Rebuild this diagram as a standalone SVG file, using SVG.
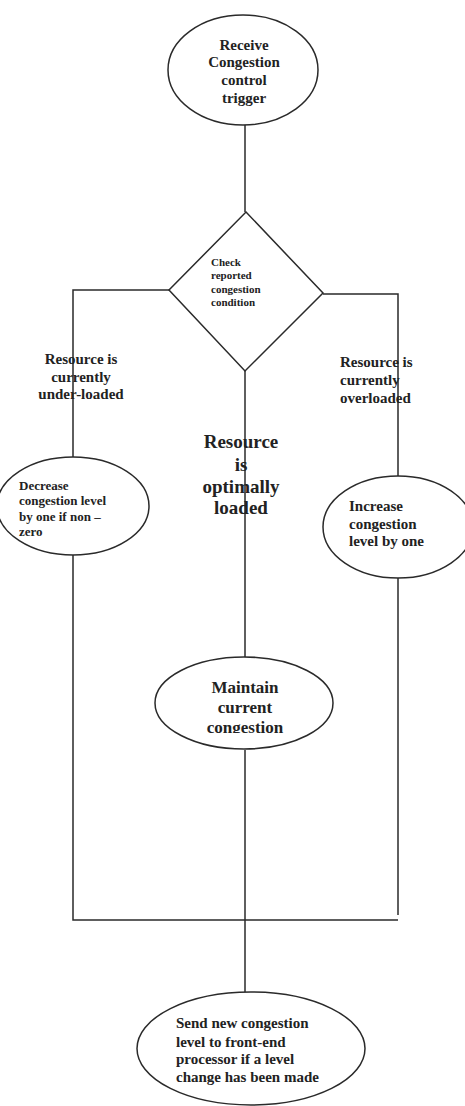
<svg xmlns="http://www.w3.org/2000/svg" width="465" height="1106" viewBox="0 0 465 1106">
<style>
.s{fill:#fff;stroke:#2a2a2a;stroke-width:1.5}
.c{fill:none;stroke:#2a2a2a;stroke-width:1.5}
.t{font-family:'Liberation Serif','Times New Roman','DejaVu Serif',serif;font-weight:700;fill:#222}
.m{text-anchor:middle}
</style>
<defs>
<clipPath id="clipM"><rect x="150" y="650" width="190" height="83"/></clipPath>
</defs>
<g id="connectors">
<path class="c" d="M245 125 V212"/>
<path class="c" d="M169 290 H73 V457"/>
<path class="c" d="M323 294 H398 V476"/>
<path class="c" d="M245 371 V657"/>
<path class="c" d="M73 555 V920 H398"/>
<path class="c" d="M398 578 V915"/>
<path class="c" d="M245 750 V992"/>
</g>
<g id="start">
<ellipse class="s" cx="243" cy="70" rx="75" ry="55"/>
<text class="t m" font-size="15" x="244" y="50">Receive</text>
<text class="t m" font-size="15" x="244" y="67">Congestion</text>
<text class="t m" font-size="15" x="244" y="85">control</text>
<text class="t m" font-size="15" x="244" y="103">trigger</text>
</g>
<g id="decision">
<polygon class="s" points="246,212 323,293 245,371 169,290"/>
<text class="t" font-size="11" x="211" y="266">Check</text>
<text class="t" font-size="11" x="211" y="279">reported</text>
<text class="t" font-size="11" x="211" y="293">congestion</text>
<text class="t" font-size="11" x="211" y="306">condition</text>
</g>
<g id="label-under">
<text class="t m" font-size="15" x="81" y="364">Resource is</text>
<text class="t m" font-size="15" x="81" y="382">currently</text>
<text class="t m" font-size="15" x="81" y="399">under-loaded</text>
</g>
<g id="label-over">
<text class="t" font-size="15" x="340" y="367">Resource is</text>
<text class="t" font-size="15" x="340" y="385">currently</text>
<text class="t" font-size="15" x="340" y="403">overloaded</text>
</g>
<g id="label-optimal">
<text class="t m" font-size="19" x="241" y="448">Resource</text>
<text class="t m" font-size="19" x="241" y="471">is</text>
<text class="t m" font-size="19" x="241" y="493">optimally</text>
<text class="t m" font-size="19" x="241" y="514">loaded</text>
</g>
<g id="decrease">
<ellipse class="s" cx="73" cy="506" rx="76" ry="49"/>
<text class="t" font-size="13" x="19" y="490">Decrease</text>
<text class="t" font-size="13" x="19" y="505">congestion level</text>
<text class="t" font-size="13" x="19" y="521">by one if non –</text>
<text class="t" font-size="13" x="19" y="536">zero</text>
</g>
<g id="increase">
<ellipse class="s" cx="398" cy="527" rx="75" ry="51"/>
<text class="t" font-size="15" x="349" y="511">Increase</text>
<text class="t" font-size="15" x="349" y="529">congestion</text>
<text class="t" font-size="15" x="349" y="546">level by one</text>
</g>
<g id="maintain">
<ellipse class="s" cx="244" cy="703" rx="89" ry="46"/>
<g clip-path="url(#clipM)">
<text class="t m" font-size="17" x="245" y="693">Maintain</text>
<text class="t m" font-size="17" x="245" y="713">current</text>
<text class="t m" font-size="17" x="245" y="733">congestion</text>
</g>
</g>
<g id="send">
<ellipse class="s" cx="251" cy="1048.5" rx="114" ry="56.5"/>
<text class="t" font-size="15" x="176" y="1028">Send new congestion</text>
<text class="t" font-size="15" x="176" y="1047">level to front-end</text>
<text class="t" font-size="15" x="176" y="1064">processor if a level</text>
<text class="t" font-size="15" x="176" y="1082">change has been made</text>
</g>
</svg>
